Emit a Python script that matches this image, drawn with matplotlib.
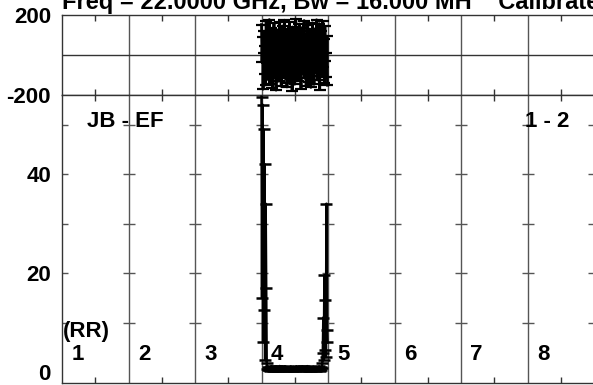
import matplotlib
matplotlib.use("Agg")
import matplotlib.pyplot as plt

plt.rcParams["font.family"] = ["Liberation Sans", "DejaVu Sans"]
plt.rcParams["font.weight"] = "bold"
plt.rcParams["axes.unicode_minus"] = False

# ---- layout of the spectrum: 8 IFs, channels per IF ----
N_IF = 8
N_CHAN = 128
DATA_IF = 4  # only IF 4 carries data on this baseline

TITLE = "Freq = 22.0000 GHz, Bw = 16.000 MH    Calibrate"
BASELINE = "JB - EF"
ANT_PAIR = "1 - 2"
POL = "(RR)"
IF_LABELS = ["1", "2", "3", "4", "5", "6", "7", "8"]

PHASE_TICKS = [-200, 200]
AMP_TICKS = [0, 20, 40]
AMP_CROSSES = [10, 20, 30, 40, 50]

phase = [
    152, -37, 88, -171, 12, 119, -96, 45, -150, 170, -8, 63, -122, 101, -59, 177,
    -143, 26, 134, -80, 4, -165, 92, -27, 158, -110, 71, -3, -176, 40, 126, -64,
    83, -131, 17, 166, -48, 109, -157, 58, -19, 145, -89, 2, 174, -117, 36, -70,
    128, -160, 51, -34, 96, -139, 163, -6, 75, -101, 21, -178, 140, -52, 113, -24,
    -146, 67, 179, -85, 9, 124, -129, 44, -66, 155, -13, 98, -168, 31, 137, -93,
    61, -40, 172, -115, 15, 85, -154, 104, -74, 148, -29, 53, -136, 119, -1, -162,
    90, -57, 161, -107, 28, -147, 71, 131, -18, -88, 176, 39, -125, 106, -45, 157,
    -173, 57, -11, 118, -99, 24, 169, -62, 80, -140, 143, -31, 11, -112, 94, -151,
]

# amplitude per channel of IF 4: band-edge spikes, near zero inside
amp_left_edge = [55.6, 15.0, 54.0, 6.0, 49.0, 12.5, 42.0, 2.4, 34.0, 17.0, 1.8]
amp_inner = [
    0.62, 0.35, 1.05, 0.48, 0.81, 0.22, 0.94, 0.57, 1.18, 0.40, 0.73, 0.15, 0.88, 0.51, 1.02, 0.30,
    0.69, 1.12, 0.44, 0.79, 0.26, 0.97, 0.60, 0.37, 1.21, 0.53, 0.84, 0.19, 0.66, 1.08, 0.45, 0.91,
    0.33, 0.75, 1.15, 0.58, 0.24, 0.86, 0.49, 1.00, 0.41, 0.70, 0.17, 0.95, 0.63, 1.10, 0.36, 0.78,
    0.55, 0.28, 1.04, 0.67, 0.43, 0.89, 0.21, 0.76, 1.16, 0.50, 0.82, 0.31, 0.99, 0.59, 0.39, 1.07,
    0.72, 0.25, 0.92, 0.46, 1.13, 0.64, 0.34, 0.85, 0.54, 1.01, 0.18, 0.77, 0.61, 1.19, 0.42, 0.87,
    0.29, 0.68, 1.06, 0.52, 0.83, 0.23, 0.96, 0.47, 0.74, 1.11, 0.38, 0.80, 0.56, 0.27, 1.03, 0.65,
    0.44, 0.90, 0.32, 0.71, 1.14, 0.58, 0.20, 0.93, 0.49, 0.81,
]
amp_right_edge = [1.8, 3.8, 11.0, 2.4, 19.6, 4.4, 14.5, 3.0, 34.0, 8.5, 6.0]
amp = amp_left_edge + amp_inner + amp_right_edge

GRID = "#555555"
INK = "black"
FS = 16


def main() -> None:
    W, H = 593, 385
    fig = plt.figure(figsize=(W / 100, H / 100), dpi=100)
    left = 62 / W
    width = 532 / W
    ax_ph = fig.add_axes([left, 1 - 95 / H, width, 80 / H])
    ax_amp = fig.add_axes([left, 1 - 382.5 / H, width, 287.5 / H])

    total = N_IF * N_CHAN
    chan = [(DATA_IF - 1) * N_CHAN + c for c in range(N_CHAN)]
    bounds = [k * N_CHAN for k in range(N_IF + 1)]
    mids = [k * N_CHAN + N_CHAN // 2 for k in range(N_IF)]

    for ax in (ax_ph, ax_amp):
        ax.set_xlim(0, total)
        for b in bounds[1:-1]:
            ax.axvline(b, color=GRID, lw=1.0, zorder=1)
        for s in ax.spines.values():
            s.set_color("#333333")
            s.set_linewidth(1.0)
        ax.set_xticks(mids)
        ax.tick_params(axis="x", direction="in", top=True, bottom=True,
                       length=4, width=1, color="#333333", labelbottom=False)
        ax.tick_params(axis="y", length=0, pad=8, labelsize=FS)

    # phase panel
    ax_ph.set_ylim(-200, 200)
    ax_ph.set_yticks(PHASE_TICKS)
    ax_ph.axhline(0, color="#333333", lw=1.0, zorder=1)
    ax_ph.plot(chan, phase, color=INK, lw=2.0, marker="_", ms=9, mew=1.6, zorder=3)

    # amplitude panel
    ax_amp.set_ylim(-2.12, 55.96)
    ax_amp.set_yticks(AMP_TICKS)
    for b in bounds:
        ax_amp.plot([b] * len(AMP_CROSSES), AMP_CROSSES, ls="none", marker="_",
                    ms=9, mew=1.0, color=GRID, zorder=2)
    ax_amp.plot(chan, amp, color=INK, lw=1.8, marker="_", ms=8, mew=1.8, zorder=3)

    for k, lab in enumerate(IF_LABELS):
        ax_amp.text(bounds[k] + 18, 3.6, lab, fontsize=FS, ha="left", va="center")
    ax_amp.text(2, 8.1, POL, fontsize=FS, ha="left", va="center")
    ax_amp.text(48, 50.7, BASELINE, fontsize=FS, ha="left", va="center")
    ax_amp.text(891, 50.7, ANT_PAIR, fontsize=FS, ha="left", va="center")

    fig.text(left, 1 - 9 / H, TITLE, fontsize=17, ha="left", va="baseline")

    fig.savefig("out.png", dpi=100)
    plt.close(fig)


if __name__ == "__main__":
    main()
